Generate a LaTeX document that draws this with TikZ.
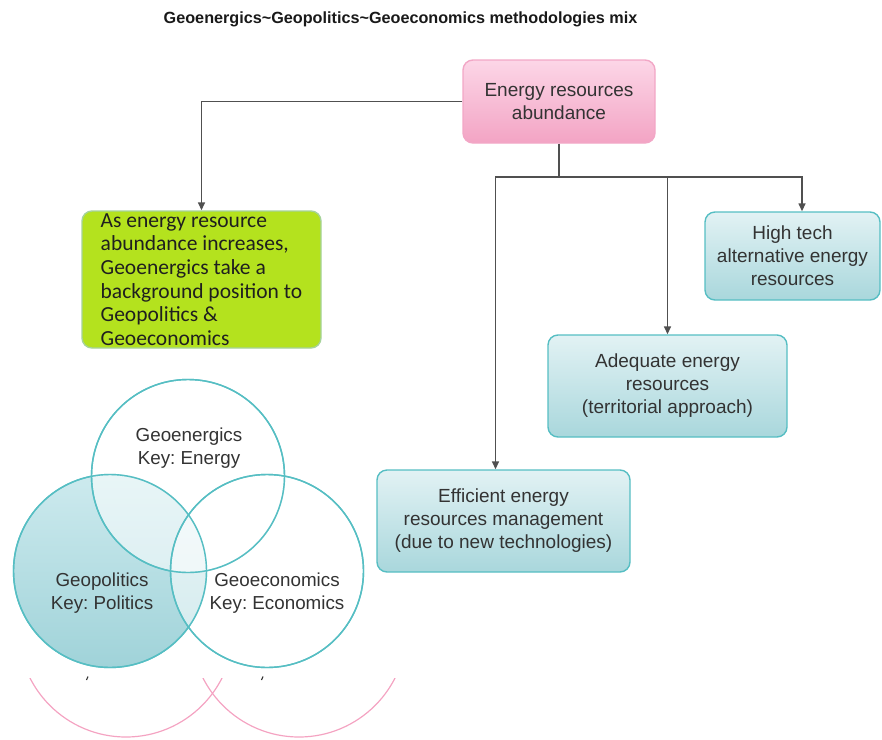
\documentclass[tikz,border=0pt]{standalone}
\usepackage{fontspec}
\setmainfont{Liberation Sans}
\newfontfamily\calib{Carlito}
\usetikzlibrary{arrows.meta}
\definecolor{tealline}{HTML}{56BEC3}
\definecolor{tealtop}{HTML}{E2F2F4}
\definecolor{tealbot}{HTML}{A9D7DC}
\definecolor{pinkline}{HTML}{F2A7C6}
\definecolor{pinktop}{HTML}{FCD6E7}
\definecolor{pinkbot}{HTML}{F3A4C4}
\definecolor{limefill}{HTML}{B4E21E}
\definecolor{limeline}{HTML}{A6D39A}
\definecolor{connc}{HTML}{505050}
\definecolor{txt}{HTML}{333333}
\definecolor{arcpink}{HTML}{F4A3C2}
\definecolor{venntop}{HTML}{CDEAEE}
\definecolor{vennbot}{HTML}{A0D3D9}
\frenchspacing
\begin{document}
\begin{tikzpicture}[x=1pt,y=-1pt,
  box/.style={rounded corners=10pt, line width=1.4pt, align=center, inner sep=0pt,
    font=\fontsize{19}{23}\selectfont, text=txt},
  tealbox/.style={box, draw=tealline, top color=tealtop, bottom color=tealbot},
  pinkbox/.style={box, draw=pinkline, top color=pinktop, bottom color=pinkbot},
  greenbox/.style={rounded corners=10pt, line width=1.4pt, draw=limeline, fill=limefill,
    align=left, inner sep=0pt, font=\calib\fontsize{21.5}{23.7}\selectfont, text=black!88},
  connline/.style={draw=connc, line width=1.5pt},
  arr/.style={connline, -{Triangle[length=8pt,width=7pt]}},
  venn/.style={circle, minimum size=193pt, inner sep=0pt, draw=tealline, line width=1.4pt},
  venntext/.style={align=center, font=\fontsize{18.8}{22.5}\selectfont, text=txt},
  pinkarc/.style={draw=arcpink, line width=1.2pt},
  tick/.style={draw=black!80, line width=1.1pt},
]
\useasboundingbox (0,0) rectangle (882,739);
\clip (0,0) rectangle (882,739);

% title
\node[font=\bfseries\fontsize{16.2}{19}\selectfont, text=black!90] (title) at (400.5,19)
  {Geoenergics\textasciitilde Geopolitics\textasciitilde Geoeconomics methodologies mix};

% boxes
\node[pinkbox, minimum width=192pt, minimum height=83pt] (top) at (559,101.5)
  {Energy resources\\abundance};
\node[greenbox, minimum width=239pt, minimum height=137pt] (green) at (201.5,279.5)
  {As energy resource\\abundance increases,\\Geoenergics take a\\background position to\\Geopolitics \&\\Geoeconomics};
\node[tealbox, minimum width=175pt, minimum height=88pt] (high) at (792.5,256)
  {High tech\\alternative energy\\resources};
\node[tealbox, minimum width=239pt, minimum height=102pt] (adeq) at (667.5,386)
  {Adequate energy\\resources\\(territorial approach)};
\node[tealbox, minimum width=253pt, minimum height=102pt] (eff) at (503.5,521)
  {Efficient energy\\resources management\\(due to new technologies)};

% connectors
\coordinate (bus) at (559,177);
\draw[arr] (top.west) -| (green.north);
\draw[connline] (top.south) -- (bus);
\draw[arr] (bus) -| ([xshift=-8pt]eff.north);
\draw[arr] (bus) -| (adeq.north);
\draw[arr] (bus) -| ([xshift=9.5pt]high.north);

% venn
\node[venn, top color=venntop, bottom color=vennbot] (pol) at (110,571) {};
\node[venn, fill=white, fill opacity=0.55] (ene) at (188,476) {};
\node[venn, fill=white, fill opacity=0.55] (eco) at (267,571) {};
\draw[draw=tealline, line width=1.4pt] (pol.center) circle[radius=96.5pt];
\draw[draw=tealline, line width=1.4pt] (ene.center) circle[radius=96.5pt];
\draw[draw=tealline, line width=1.4pt] (eco.center) circle[radius=96.5pt];
\node[venntext] (tene) at (189,448) {Geoenergics\\Key: Energy};
\node[venntext] (tpol) at (102,593) {Geopolitics\\Key: Politics};
\node[venntext] (teco) at (277,593) {Geoeconomics\\Key: Economics};

% pink arcs at bottom
\begin{scope}
  \clip (0,678) rectangle (882,740);
  \draw[pinkarc] (126,629.4) circle[radius=107.6pt];
  \draw[pinkarc] (299,629.4) circle[radius=107.6pt];
\end{scope}
\draw[tick] (88,676.5) -- (86.5,680);
\draw[tick] (263,676.5) -- (261.5,680);
\end{tikzpicture}
\end{document}
